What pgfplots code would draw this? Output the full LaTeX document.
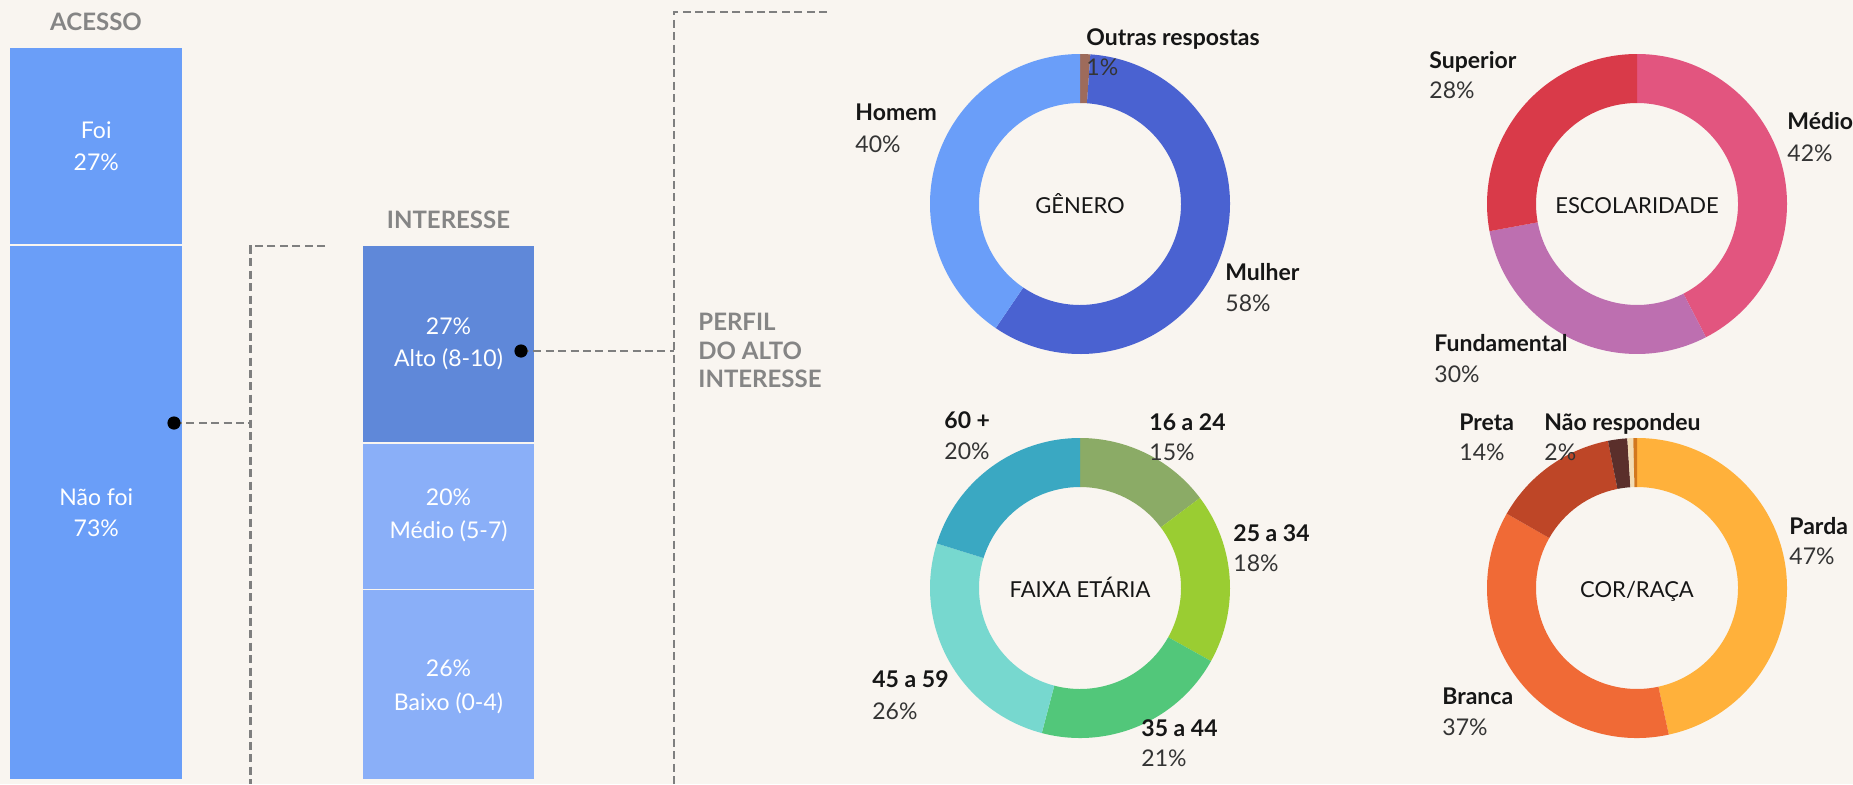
\documentclass[border=0pt]{standalone}
\usepackage{pgfplots}
\pgfplotsset{compat=1.18}
\usepackage{fontspec}
\setmainfont{Lato}
\definecolor{bgc}{HTML}{F9F5F0}
\definecolor{bara}{HTML}{6A9EF8}
\definecolor{barhi}{HTML}{5F88D9}
\definecolor{barlo}{HTML}{8AAFF8}
\definecolor{gHomem}{HTML}{6A9EF9}
\definecolor{gMulher}{HTML}{4A62D1}
\definecolor{gOutras}{HTML}{9E6B5B}
\definecolor{eMedio}{HTML}{E2557F}
\definecolor{eFund}{HTML}{BD6FB0}
\definecolor{eSup}{HTML}{D93A49}
\definecolor{fA}{HTML}{8BAB66}
\definecolor{fB}{HTML}{9ACD32}
\definecolor{fC}{HTML}{52C77A}
\definecolor{fD}{HTML}{77D8CF}
\definecolor{fE}{HTML}{3AA8C2}
\definecolor{cParda}{HTML}{FFB13B}
\definecolor{cBranca}{HTML}{F06A36}
\definecolor{cPreta}{HTML}{BE4627}
\definecolor{cNR}{HTML}{5A2F2B}
\definecolor{cCream}{HTML}{F2DCB4}
\definecolor{cOr}{HTML}{D2781E}
\definecolor{titc}{HTML}{858585}
\definecolor{namec}{HTML}{161616}
\definecolor{pctc}{HTML}{343434}
\definecolor{dashc}{HTML}{7F7F7F}
% donut slice: start (percent), value (percent), colour
\newcommand{\slice}[3]{%
  \fill[#3] (axis cs:0,0) ++({90-3.6*(#1)}:75pt)
    arc[start angle={90-3.6*(#1)}, end angle={90-3.6*(#1+#2)}, radius=75pt]
    -- ++({90-3.6*(#1+#2)}:-24.5pt)
    arc[start angle={90-3.6*(#1+#2)}, end angle={90-3.6*(#1)}, radius=50.5pt]
    -- cycle;}
\pgfplotsset{donut/.style={anchor=south west, scale only axis, width=150pt, height=150pt,
  xmin=-1, xmax=1, ymin=-1, ymax=1, hide axis, clip=false}}
\pgfplotsset{stackbar/.style={anchor=south west, scale only axis, width=86.5pt, height=366.5pt,
  xmin=-0.5, xmax=0.5, ymin=0, ymax=100, hide axis, clip=false, ybar stacked, bar width=1}}
\newcommand{\lab}[5]{%
  \node[anchor=base west, inner sep=0pt, font=\fontsize{11.5}{13}\selectfont\bfseries, text=namec] at (#1,{784-#2-8}) {#4};
  \node[anchor=base west, inner sep=0pt, font=\fontsize{11.5}{13}\selectfont, text=pctc] at (#1,{784-#3-8}) {#5};}
\begin{document}
\begin{tikzpicture}
\fill[bgc] (0,0) rectangle (926.5pt,392pt);
\useasboundingbox (0,0) rectangle (926.5pt,392pt);
% ACESSO
\begin{axis}[stackbar, at={(4.75pt,2pt)}]
\addplot[fill=bara, draw=bgc, line width=0.7pt] coordinates {(0,73)};
\addplot[fill=bara, draw=bgc, line width=0.7pt] coordinates {(0,27)};
\end{axis}
% INTERESSE
\begin{axis}[stackbar, at={(181pt,2pt)}]
\addplot[fill=barlo, draw=bgc, line width=0.7pt] coordinates {(0,26)};
\addplot[fill=barlo, draw=bgc, line width=0.7pt] coordinates {(0,20)};
\addplot[fill=barhi, draw=bgc, line width=0.7pt] coordinates {(0,27)};
\end{axis}
% GENERO
\begin{axis}[donut, at={(465pt,215pt)}]
\slice{0}{1.1}{gOutras}
\slice{1.1}{58.4}{gMulher}
\slice{59.5}{40.5}{gHomem}
\end{axis}
% ESCOLARIDADE
\begin{axis}[donut, at={(743.5pt,215pt)}]
\slice{0}{42.4}{eMedio}
\slice{42.4}{29.7}{eFund}
\slice{72.1}{27.9}{eSup}
\end{axis}
% FAIXA ETARIA
\begin{axis}[donut, at={(465pt,23pt)}]
\slice{0}{14.75}{fA}
\slice{14.75}{18.35}{fB}
\slice{33.1}{21.0}{fC}
\slice{54.1}{25.7}{fD}
\slice{79.8}{20.2}{fE}
\end{axis}
% COR/RACA
\begin{axis}[donut, at={(743.5pt,23pt)}]
\slice{0}{46.6}{cParda}
\slice{46.6}{36.65}{cBranca}
\slice{83.25}{13.65}{cPreta}
\slice{96.9}{2.07}{cNR}
\slice{98.97}{0.63}{cCream}
\slice{99.6}{0.4}{cOr}
\end{axis}
\begin{scope}[x=0.5pt,y=0.5pt]
% connectors
\draw[dashc, line width=1.1pt, dash pattern=on 4pt off 2.2pt] (174,361) -- (250.5,361);
\draw[dashc, line width=1.1pt, dash pattern=on 4pt off 2.2pt] (325,538) -- (250.5,538) -- (250.5,0);
\draw[dashc, line width=1.1pt, dash pattern=on 4pt off 2.2pt] (521,433) -- (673.6,433);
\draw[dashc, line width=1.1pt, dash pattern=on 4pt off 2.2pt] (827,772) -- (673.6,772) -- (673.6,0);
\fill[black] (174,361) circle (3.3pt);
\fill[black] (521,433) circle (3.3pt);
% titles
\begin{scope}[every node/.style={inner sep=0pt, text=titc, font=\fontsize{12}{14}\selectfont\bfseries}]
\node[anchor=base] at (96,{784-30.5}) {ACESSO};
\node[anchor=base] at (448.5,{784-228.5}) {INTERESSE};
\node[anchor=base west] at (698,{784-330.5}) {PERFIL};
\node[anchor=base west] at (698,{784-359.5}) {DO ALTO};
\node[anchor=base west] at (698,{784-387.5}) {INTERESSE};
\end{scope}
% bar labels
\begin{scope}[every node/.style={inner sep=0pt, text=white, font=\fontsize{11.5}{13}\selectfont, anchor=base}]
\node at (96.25,{784-138}) {Foi};
\node at (96.25,{784-170}) {27\%};
\node at (96.25,{784-505}) {Não foi};
\node at (96.25,{784-536}) {73\%};
\node at (448.5,{784-334}) {27\%};
\node at (448.5,{784-366}) {Alto (8-10)};
\node at (448.5,{784-505}) {20\%};
\node at (448.5,{784-538}) {Médio (5-7)};
\node at (448.5,{784-676}) {26\%};
\node at (448.5,{784-710}) {Baixo (0-4)};
\end{scope}
% donut centre labels
\begin{scope}[every node/.style={inner sep=0pt, text=namec, font=\fontsize{11}{13}\selectfont, anchor=base}]
\node at (1080,{784-213}) {GÊNERO};
\node at (1637,{784-213}) {ESCOLARIDADE};
\node at (1080,{784-597}) {FAIXA ETÁRIA};
\node at (1637,{784-597}) {COR/RAÇA};
\end{scope}
% donut slice labels
\lab{1086}{37}{68}{Outras respostas}{1\%}
\lab{855}{113}{144}{Homem}{40\%}
\lab{1225}{272}{303}{Mulher}{58\%}
\lab{1429}{61}{91}{Superior}{28\%}
\lab{1787}{122}{153}{Médio}{42\%}
\lab{1434}{343}{374}{Fundamental}{30\%}
\lab{944}{420}{451}{60 +}{20\%}
\lab{1149}{422}{452}{16 a 24}{15\%}
\lab{1233}{533}{563}{25 a 34}{18\%}
\lab{872}{679}{711}{45 a 59}{26\%}
\lab{1141}{728}{758}{35 a 44}{21\%}
\lab{1459}{422}{452}{Preta}{14\%}
\lab{1544}{422}{452}{Não respondeu}{2\%}
\lab{1789}{526}{556}{Parda}{47\%}
\lab{1442}{696}{727}{Branca}{37\%}
\end{scope}
\end{tikzpicture}
\end{document}
